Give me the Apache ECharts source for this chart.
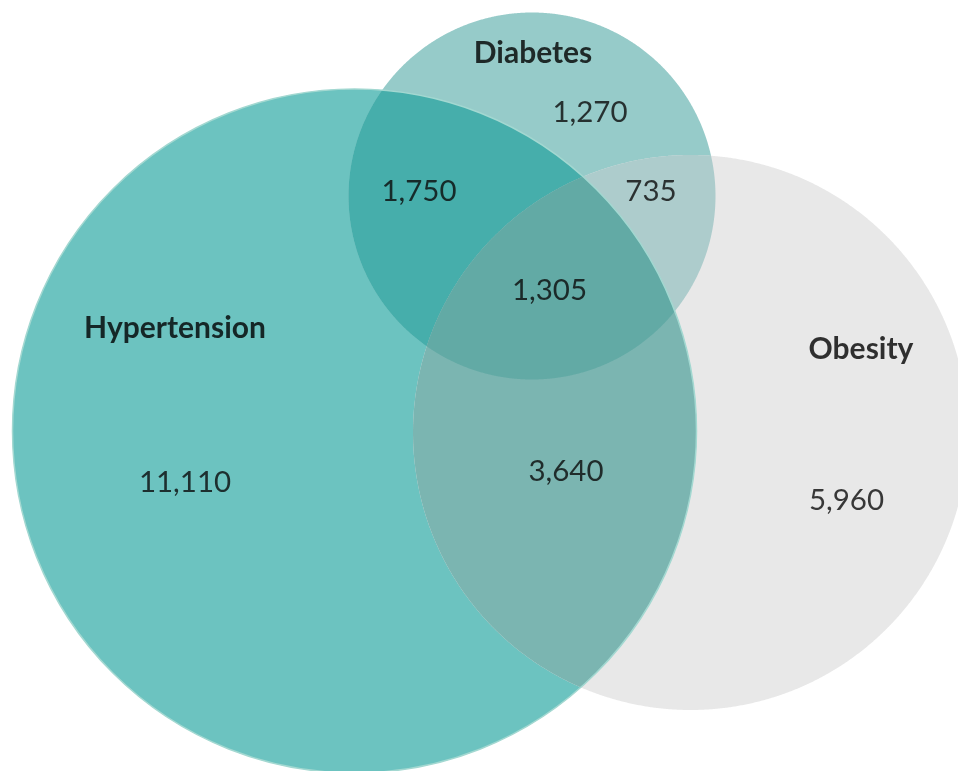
<!DOCTYPE html>
<html>
<head>
<meta charset="utf-8">
<script src="https://cdn.jsdelivr.net/npm/echarts@6/dist/echarts.min.js"></script>
<style>
  html, body { margin: 0; padding: 0; background: #ffffff; }
  #chart { width: 958px; height: 771px; }
</style>
</head>
<body>
<div id="chart"></div>
<script>
// Sets shown in the diagram
const setKeys = ['H', 'D', 'O'];
const setNames = ['Hypertension', 'Diabetes', 'Obesity'];

// Exclusive counts per Venn region (letters = sets the region belongs to)
const regionKeys = ['H', 'D', 'O', 'HD', 'DO', 'HO', 'HDO'];
const regionCounts = [11110, 1270, 5960, 1750, 735, 3640, 1305];

// ---- layout (axis units map 1:1 onto the 958 x 771 canvas) ----
const circleLayout = {
  H: { cx: 354.5, cy: 431, r: 342 },
  D: { cx: 532, cy: 196, r: 183.5 },
  O: { cx: 690.5, cy: 432.5, r: 277.5 }
};
const regionColors = {
  H: '#6cc3c0', D: '#96cbc9', O: '#e8e8e8',
  HD: '#46aeab', DO: '#adcccc', HO: '#7bb5b1', HDO: '#62aaa5'
};
const regionLabelPos = {
  H: [185, 482], D: [590, 112], O: [846.5, 500],
  HD: [419, 191], DO: [651, 191], HO: [566, 471], HDO: [549.5, 290]
};
const setLabelPos = { H: [175, 328], D: [533, 53], O: [861, 349] };

// Outline of the intersection of several discs (convex), in axis units
function regionOutline(key) {
  const circles = key.split('').map(k => circleLayout[k]);
  const N = 1440;
  const pts = [];
  const insideAll = (x, y, skip) => circles.every((c, j) =>
    j === skip || Math.hypot(x - c.cx, y - c.cy) <= c.r + 1e-6);
  circles.forEach((c, i) => {
    for (let s = 0; s < N; s++) {
      const a = (s / N) * Math.PI * 2;
      const x = c.cx + c.r * Math.cos(a), y = c.cy + c.r * Math.sin(a);
      if (insideAll(x, y, i)) pts.push([x, y]);
    }
  });
  // exact crossing points of each pair of circles
  for (let i = 0; i < circles.length; i++) {
    for (let j = i + 1; j < circles.length; j++) {
      const a = circles[i], b = circles[j];
      const d = Math.hypot(b.cx - a.cx, b.cy - a.cy);
      const l = (a.r * a.r - b.r * b.r + d * d) / (2 * d);
      const h = Math.sqrt(Math.max(0, a.r * a.r - l * l));
      const ux = (b.cx - a.cx) / d, uy = (b.cy - a.cy) / d;
      const mx = a.cx + l * ux, my = a.cy + l * uy;
      [[mx - h * uy, my + h * ux], [mx + h * uy, my - h * ux]].forEach(p => {
        if (circles.every(c => Math.hypot(p[0] - c.cx, p[1] - c.cy) <= c.r + 1e-3)) pts.push(p);
      });
    }
  }
  const gx = pts.reduce((s, p) => s + p[0], 0) / pts.length;
  const gy = pts.reduce((s, p) => s + p[1], 0) / pts.length;
  pts.sort((p, q) => Math.atan2(p[1] - gy, p[0] - gx) - Math.atan2(q[1] - gy, q[0] - gx));
  return pts;
}

const regionShapes = regionKeys.map(regionOutline);

const chart = echarts.init(document.getElementById('chart'), null, { renderer: 'canvas' });

const fontFamily = 'Lato, "Open Sans", sans-serif';

chart.setOption({
  animation: false,
  backgroundColor: '#ffffff',
  grid: { left: 0, right: 0, top: 0, bottom: 0 },
  xAxis: { type: 'value', min: 0, max: 958, show: false },
  yAxis: { type: 'value', min: 0, max: 771, inverse: true, show: false },
  series: [
    {
      // filled regions: whole discs first, then overlaps on top
      type: 'custom',
      coordinateSystem: 'cartesian2d',
      data: regionKeys.map((k, i) => [i]),
      renderItem: function (params, api) {
        const idx = api.value(0);
        const key = regionKeys[idx];
        const points = regionShapes[idx].map(p => api.coord(p));
        return {
          type: 'polygon',
          shape: { points: points },
          style: { fill: regionColors[key], stroke: null }
        };
      },
      silent: true,
      z: 1
    },
    {
      // light rim along the Hypertension disc
      type: 'custom',
      coordinateSystem: 'cartesian2d',
      data: [[circleLayout.H.cx, circleLayout.H.cy, circleLayout.H.r]],
      renderItem: function (params, api) {
        const c = api.coord([api.value(0), api.value(1)]);
        const r = api.size([api.value(2), 0])[0];
        return {
          type: 'circle',
          shape: { cx: c[0], cy: c[1], r: r },
          style: { fill: null, stroke: '#a3d8d1', lineWidth: 1.5 }
        };
      },
      silent: true,
      z: 2
    },
    {
      // region counts
      type: 'scatter',
      symbolSize: 0,
      data: regionKeys.map((k, i) => [regionLabelPos[k][0], regionLabelPos[k][1], regionCounts[i]]),
      label: {
        show: true,
        position: 'inside',
        align: 'center',
        verticalAlign: 'middle',
        formatter: p => p.value[2].toLocaleString('en-US'),
        fontFamily: fontFamily,
        fontSize: 29.5,
        color: '#0a0a0a'
      },
      silent: true,
      z: 3
    },
    {
      // set names
      type: 'scatter',
      symbolSize: 0,
      data: setKeys.map((k, i) => ({ value: [setLabelPos[k][0], setLabelPos[k][1]], name: setNames[i] })),
      label: {
        show: true,
        position: 'inside',
        align: 'center',
        verticalAlign: 'middle',
        formatter: p => p.name,
        fontFamily: fontFamily,
        fontWeight: 'bold',
        fontSize: 30,
        color: '#000000'
      },
      silent: true,
      z: 3
    }
  ]
});
</script>
</body>
</html>
